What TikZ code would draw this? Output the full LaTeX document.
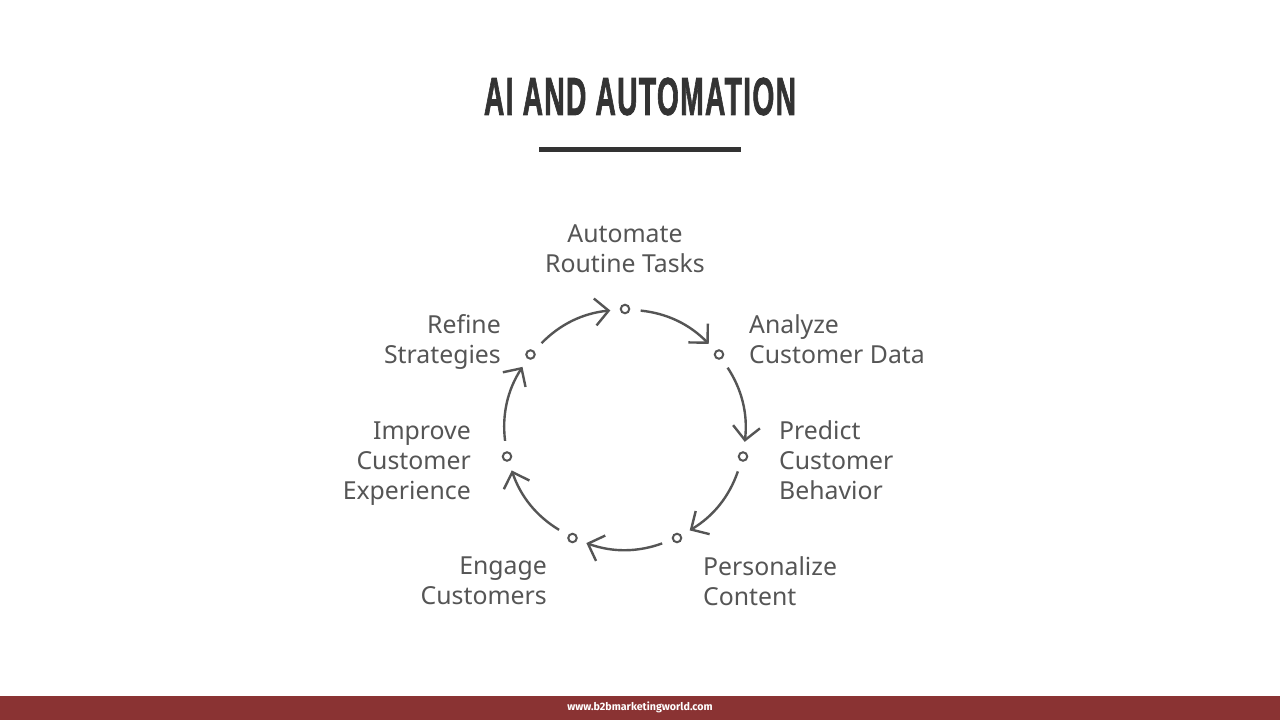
\documentclass[tikz,border=0pt]{standalone}
\usepackage{fontspec}
\setmainfont{Noto Sans}
\newfontfamily\titlefont[LetterSpace=5,BoldFeatures={FakeBold=2}]{Liberation Sans}
\newfontfamily\footfont{Fira Sans}
\usetikzlibrary{arrows.meta}
\definecolor{inkdark}{HTML}{333333}
\definecolor{inkgrey}{HTML}{555555}
\definecolor{barred}{HTML}{8A3333}
\tikzset{
  dotnode/.style={circle,draw=inkgrey,line width=2pt,fill=white,minimum size=8.5pt,inner sep=0pt},
  lbl/.style={text=inkgrey,font=\fontsize{24.8}{30}\selectfont,inner sep=0pt},
  lblL/.style={lbl,align=left,anchor=west},
  lblR/.style={lbl,align=right,anchor=east},
  lblC/.style={lbl,align=center,anchor=center},
  cycarrow/.style={draw=inkgrey,line width=2.4pt,bend left=20,shorten <=10.5pt,shorten >=9.5pt,
    -{Straight Barb[length=13.5pt,width=27pt,line width=2.4pt]}},
}
\begin{document}
\begin{tikzpicture}[x=1pt,y=-1pt]
\useasboundingbox (0,0) rectangle (1280,720);
\fill[white] (0,0) rectangle (1280,720);
\node[text=inkdark,inner sep=0pt] (title) at (640,96.5)
  {\resizebox{312pt}{37pt}{\titlefont\bfseries AI AND AUTOMATION}};
\fill[inkdark] (539,146.5) rectangle (741,151.5);
\fill[barred] (0,696) rectangle (1280,720);
\node[text=white,inner sep=0pt,font=\footfont\fontsize{10.7}{13}\selectfont\bfseries] (foot) at (640,707.5) {www.b2bmarketingworld.com};
\node[dotnode] (n1) at (625,309) {};
\node[dotnode] (n2) at (719,354.5) {};
\node[dotnode] (n3) at (743,456.5) {};
\node[dotnode] (n4) at (677,538) {};
\node[dotnode] (n5) at (572.5,538) {};
\node[dotnode] (n6) at (507,456.5) {};
\node[dotnode] (n7) at (530.5,354.5) {};
\path[cycarrow] (n1) to (n2);
\path[cycarrow] (n2) to (n3);
\path[cycarrow] (n3) to (n4);
\path[cycarrow] (n4) to (n5);
\path[cycarrow] (n5) to (n6);
\path[cycarrow] (n6) to (n7);
\path[cycarrow] (n7) to (n1);
\node[lblC] (t1) at (625,249) {Automate\\Routine Tasks};
\node[lblL] (t2) at (749,339) {Analyze\\Customer Data};
\node[lblL] (t3) at (779,460) {Predict\\Customer\\Behavior};
\node[lblL] (t4) at (703,581) {Personalize\\Content};
\node[lblR] (t5) at (547,581) {Engage\\Customers};
\node[lblR] (t6) at (471,464) {Improve\\Customer\\Experience};
\node[lblR] (t7) at (501,342) {Refine\\Strategies};
\end{tikzpicture}
\end{document}
